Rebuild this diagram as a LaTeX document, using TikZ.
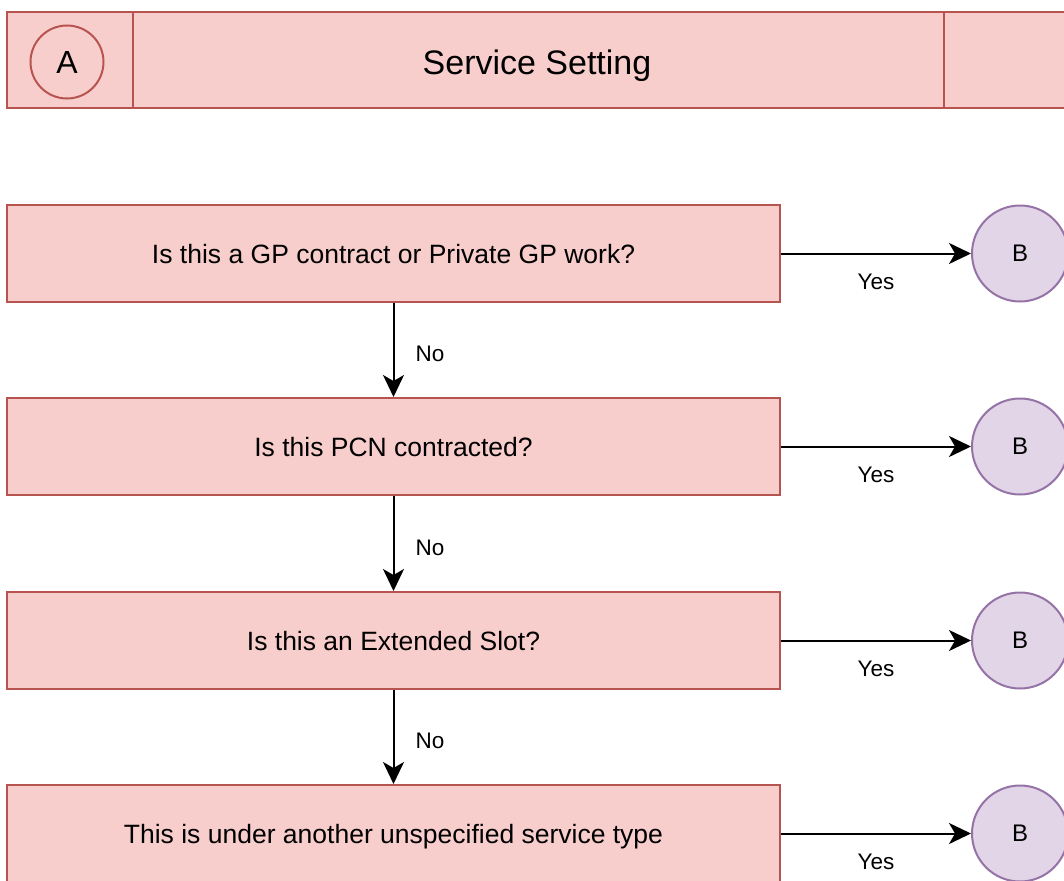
\documentclass[tikz,border=0pt]{standalone}
\usepackage{fontspec}
\setmainfont{Liberation Sans}
\usetikzlibrary{arrows.meta}
\definecolor{redfill}{HTML}{F8CECC}
\definecolor{redline}{HTML}{B85450}
\definecolor{purfill}{HTML}{E1D5E7}
\definecolor{purline}{HTML}{9673A6}
\tikzset{
  qbox/.style={draw=redline, fill=redfill, line width=2pt, minimum width=773pt, minimum height=97pt, inner sep=0pt, text depth=0pt, font=\fontsize{26.5}{30}\selectfont},
  bcirc/.style={draw=purline, fill=purfill, line width=2pt, circle, minimum size=96pt, inner sep=0pt, text depth=0pt, font=\fontsize{24}{28}\selectfont},
  acirc/.style={draw=redline, line width=2pt, circle, minimum size=73pt, inner sep=0pt, text depth=0pt, font=\fontsize{32}{36}\selectfont},
  conn/.style={line width=2pt, -{Stealth[length=22pt, width=21pt, inset=6pt]}},
  elabel/.style={font=\fontsize{22.5}{26}\selectfont, inner sep=0pt}
}
\begin{document}
\begin{tikzpicture}[x=1pt, y=-1pt]
\path[use as bounding box, clip] (0,0) rectangle (1064,880);
% header
\path[draw=redline, fill=redfill, line width=2pt] (7,12) rectangle (1120,108);
\draw[redline, line width=2pt] (133,12) -- (133,108);
\draw[redline, line width=2pt] (944,12) -- (944,108);
\node[acirc] (A) at (67,62) {A};
\node[font=\fontsize{34}{40}\selectfont, text depth=0pt] (title) at (537,62.5) {Service Setting};
% question boxes
\node[qbox] (q1) at (393.5,253.5) {Is this a GP contract or Private GP work?};
\node[qbox] (q2) at (393.5,446.5) {Is this PCN contracted?};
\node[qbox] (q3) at (393.5,640.5) {Is this an Extended Slot?};
\node[qbox] (q4) at (393.5,833.5) {This is under another unspecified service type};
% B circles
\node[bcirc] (b1) at (1020,253.5) {B};
\node[bcirc] (b2) at (1020,446.5) {B};
\node[bcirc] (b3) at (1020,640.5) {B};
\node[bcirc] (b4) at (1020,833.5) {B};
% yes arrows
\foreach \i in {1,2,3,4}{
  \draw[conn] (q\i.east) -- (b\i.west) node[midway, below=20pt, elabel] {Yes};
}
% no arrows
\draw[conn] (q1.south) -- (q2.north) node[midway, right=21pt, yshift=-4pt, elabel] {No};
\draw[conn] (q2.south) -- (q3.north) node[midway, right=21pt, yshift=-4pt, elabel] {No};
\draw[conn] (q3.south) -- (q4.north) node[midway, right=21pt, yshift=-4pt, elabel] {No};
\end{tikzpicture}
\end{document}
